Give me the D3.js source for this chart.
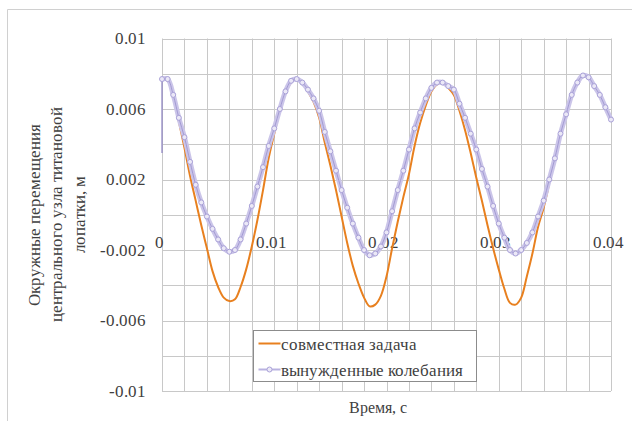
<!DOCTYPE html>
<html>
<head>
<meta charset="utf-8">
<script src="https://cdn.jsdelivr.net/npm/d3@7"></script>
<style>
  @font-face {
    font-family: "ChartSerif";
    src: local("Liberation Serif"), local("LiberationSerif"), local("Liberation Serif Regular"), local("LiberationSerif-Regular");
  }
</style>
</head>
<body style="margin:0">
<div id="chart"></div>
<script>
// time, s (step 0.0005)
const time = [
  0, 0.0005, 0.001, 0.0015, 0.002, 0.0025, 0.003, 0.0035, 0.004, 0.0045,
  0.005, 0.0055, 0.006, 0.0065, 0.007, 0.0075, 0.008, 0.0085, 0.009, 0.0095,
  0.01, 0.0105, 0.011, 0.0115, 0.012, 0.0125, 0.013, 0.0135, 0.014, 0.0145,
  0.015, 0.0155, 0.016, 0.0165, 0.017, 0.0175, 0.018, 0.0185, 0.019, 0.0195,
  0.02, 0.0205, 0.021, 0.0215, 0.022, 0.0225, 0.023, 0.0235, 0.024, 0.0245,
  0.025, 0.0255, 0.026, 0.0265, 0.027, 0.0275, 0.028, 0.0285, 0.029, 0.0295,
  0.03, 0.0305, 0.031, 0.0315, 0.032, 0.0325, 0.033, 0.0335, 0.034, 0.0345,
  0.035, 0.0355, 0.036, 0.0365, 0.037, 0.0375, 0.038, 0.0385, 0.039, 0.0395,
  0.04
];

// "совместная задача" (stops at t = 0.0345)
const joint = [
  0.0077, 0.0076, 0.0067, 0.0053, 0.0038, 0.0022, 0.0008, -0.0006, -0.0019, -0.0032,
  -0.0041, -0.0047, -0.0049, -0.0048, -0.0041, -0.0031, -0.0018, -0.0003, 0.0014, 0.0032,
  0.0046, 0.0059, 0.0069, 0.0075, 0.0077, 0.0075, 0.0070, 0.0064, 0.0055, 0.0041,
  0.0028, 0.0014, -0.0001, -0.0016, -0.0029, -0.0039, -0.0047, -0.0052, -0.0051, -0.0046,
  -0.0035, -0.0019, -0.0004, 0.0010, 0.0023, 0.0039, 0.0052, 0.0062, 0.0070, 0.0074,
  0.0075, 0.0072, 0.0068, 0.0059, 0.0048, 0.0035, 0.0021, 0.0008, -0.0006, -0.0019,
  -0.0031, -0.0042, -0.0050, -0.0051, -0.0047, -0.0035, -0.0022, -0.0007, 0.0004, 0.0018
];

// "вынужденные колебания": initial value at t = 0, then the samples on `time`
const forcedStart = 0.0035;
const forced = [
  0.0077, 0.0077, 0.0068, 0.0055, 0.0044, 0.0030, 0.0017, 0.0007, -0.0001, -0.0008,
  -0.0014, -0.0019, -0.0021, -0.0020, -0.0014, -0.0005, 0.0005, 0.0016, 0.0027, 0.0039,
  0.0049, 0.0060, 0.0070, 0.0076, 0.0077, 0.0075, 0.0071, 0.0066, 0.0059, 0.0047,
  0.0036, 0.0025, 0.0014, 0.0004, -0.0005, -0.0013, -0.0020, -0.0023, -0.0022, -0.0018,
  -0.0010, 0.0002, 0.0014, 0.0025, 0.0037, 0.0049, 0.0058, 0.0066, 0.0072, 0.0075,
  0.0075, 0.0073, 0.0071, 0.0063, 0.0055, 0.0046, 0.0037, 0.0026, 0.0016, 0.0005,
  -0.0005, -0.0013, -0.0020, -0.0022, -0.0020, -0.0016, -0.0010, -0.0001, 0.0008, 0.0020,
  0.0032, 0.0046, 0.0057, 0.0068, 0.0075, 0.0079, 0.0078, 0.0073, 0.0068, 0.0061,
  0.0054
];

const xTicks = [0, 0.01, 0.02, 0.03, 0.04];
const yTicks = [-0.01, -0.006, -0.002, 0.002, 0.006, 0.01];
const seriesNames = ["совместная задача", "вынужденные колебания"];
const yTitle = ["Окружные перемещения", "центрального узла титановой", "лопатки, м"];
const xTitle = "Время, с";

var width = 632,
    height = 421,
    font = "ChartSerif, 'Liberation Serif', 'Times New Roman', Tinos",
    textColor = "#3f3f3f",
    orange = "#e8801f",
    lavender = "#aaa2d8",
    fmt = d => String(+d.toFixed(4));

// shared look for every text node
function label(sel, size) {
  return sel
    .attr("font-family", font)
    .style("font-family", font)
    .attr("font-size", size)
    .attr("fill", textColor);
}

var svg = d3.select("#chart").append("svg")
  .attr("width", width)
  .attr("height", height)
  .style("display", "block");

svg.append("rect")
  .attr("width", width)
  .attr("height", height)
  .attr("fill", "#fff");

// chart area frame
svg.append("path")
  .attr("d", "M7.5," + height + "V9.5H" + width)
  .attr("fill", "none")
  .attr("stroke", "#d0d0d0");

var x = d3.scaleLinear()
  .domain([0, 0.04])
  .range([162, 611]);

var y = d3.scaleLinear()
  .domain([-0.01, 0.01])
  .range([391, 38.5]);

// grid, every 0.002 both ways
var grid = svg.append("g").attr("stroke", "#c8c8c8").attr("stroke-width", 1);

grid.selectAll(".gx")
  .data(x.ticks(20))
  .enter().append("line")
    .attr("x1", d => Math.round(x(d)) + 0.5)
    .attr("x2", d => Math.round(x(d)) + 0.5)
    .attr("y1", y(0.01))
    .attr("y2", y(-0.01));

grid.selectAll(".gy")
  .data(y.ticks(10))
  .enter().append("line")
    .attr("x1", x(0))
    .attr("x2", x(0.04))
    .attr("y1", d => Math.round(y(d)) + 0.5)
    .attr("y2", d => Math.round(y(d)) + 0.5);

// tick labels
svg.append("g").selectAll("text")
  .data(yTicks)
  .enter().append("text")
    .attr("x", 146)
    .attr("y", d => y(d))
    .attr("dy", "0.35em")
    .attr("text-anchor", "end")
    .call(label, 17)
    .text(fmt);

svg.append("g").selectAll("text")
  .data(xTicks)
  .enter().append("text")
    .attr("x", d => x(d) - 3)
    .attr("y", y(0) + 33)
    .attr("text-anchor", "middle")
    .call(label, 17)
    .text(fmt);

// axis titles
svg.append("text")
  .attr("x", 378)
  .attr("y", 413)
  .attr("text-anchor", "middle")
  .call(label, 16)
  .text(xTitle);

svg.append("g")
  .attr("transform", "translate(34," + y(0) + ") rotate(-90)")
  .selectAll("text")
  .data(yTitle)
  .enter().append("text")
    .attr("x", 0)
    .attr("y", (d, i) => i * 22.5)
    .attr("dy", "0.35em")
    .attr("text-anchor", "middle")
    .call(label, 17)
    .text(d => d);

// series
var jointPts = joint.map((v, i) => [time[i], v]);
var forcedPts = forced.map((v, i) => [time[i], v]);

var line = d3.line()
  .x(d => x(d[0]))
  .y(d => y(d[1]))
  .curve(d3.curveCatmullRom.alpha(0.5));

svg.append("path")
  .attr("d", line(jointPts))
  .attr("fill", "none")
  .attr("stroke", orange)
  .attr("stroke-width", 2);

// straight jump from the initial value
svg.append("line")
  .attr("x1", x(0)).attr("x2", x(0))
  .attr("y1", y(forcedStart)).attr("y2", y(forced[0]))
  .attr("stroke", "#8a80c2")
  .attr("stroke-width", 1.2);

svg.append("path")
  .attr("d", line(forcedPts))
  .attr("fill", "none")
  .attr("stroke", "#cbc5e9")
  .attr("stroke-width", 5);

svg.append("path")
  .attr("d", line(forcedPts))
  .attr("fill", "none")
  .attr("stroke", "#a39bd4")
  .attr("stroke-width", 1);

svg.append("g").selectAll("circle")
  .data(forcedPts)
  .enter().append("circle")
    .attr("cx", d => x(d[0]))
    .attr("cy", d => y(d[1]))
    .attr("r", 2.5)
    .attr("fill", "#ebe8f7")
    .attr("stroke", lavender)
    .attr("stroke-width", 1);

// legend
var legend = svg.append("g").attr("transform", "translate(253.5,330.5)");

legend.append("rect")
  .attr("width", 223)
  .attr("height", 51)
  .attr("fill", "#fff")
  .attr("stroke", "#8c8c8c");

legend.append("line")
  .attr("x1", 5).attr("x2", 27)
  .attr("y1", 13).attr("y2", 13)
  .attr("stroke", orange)
  .attr("stroke-width", 2);

legend.append("line")
  .attr("x1", 5).attr("x2", 27)
  .attr("y1", 39).attr("y2", 39)
  .attr("stroke", "#b9b2e0")
  .attr("stroke-width", 2);

legend.append("circle")
  .attr("cx", 16).attr("cy", 39)
  .attr("r", 2.5)
  .attr("fill", "#ebe8f7")
  .attr("stroke", lavender);

legend.selectAll(".label")
  .data(seriesNames)
  .enter().append("text")
    .attr("x", 27)
    .attr("y", (d, i) => 14 + i * 26)
    .attr("dy", "0.35em")
    .call(label, 17)
    .text(d => d);
</script>
</body>
</html>
